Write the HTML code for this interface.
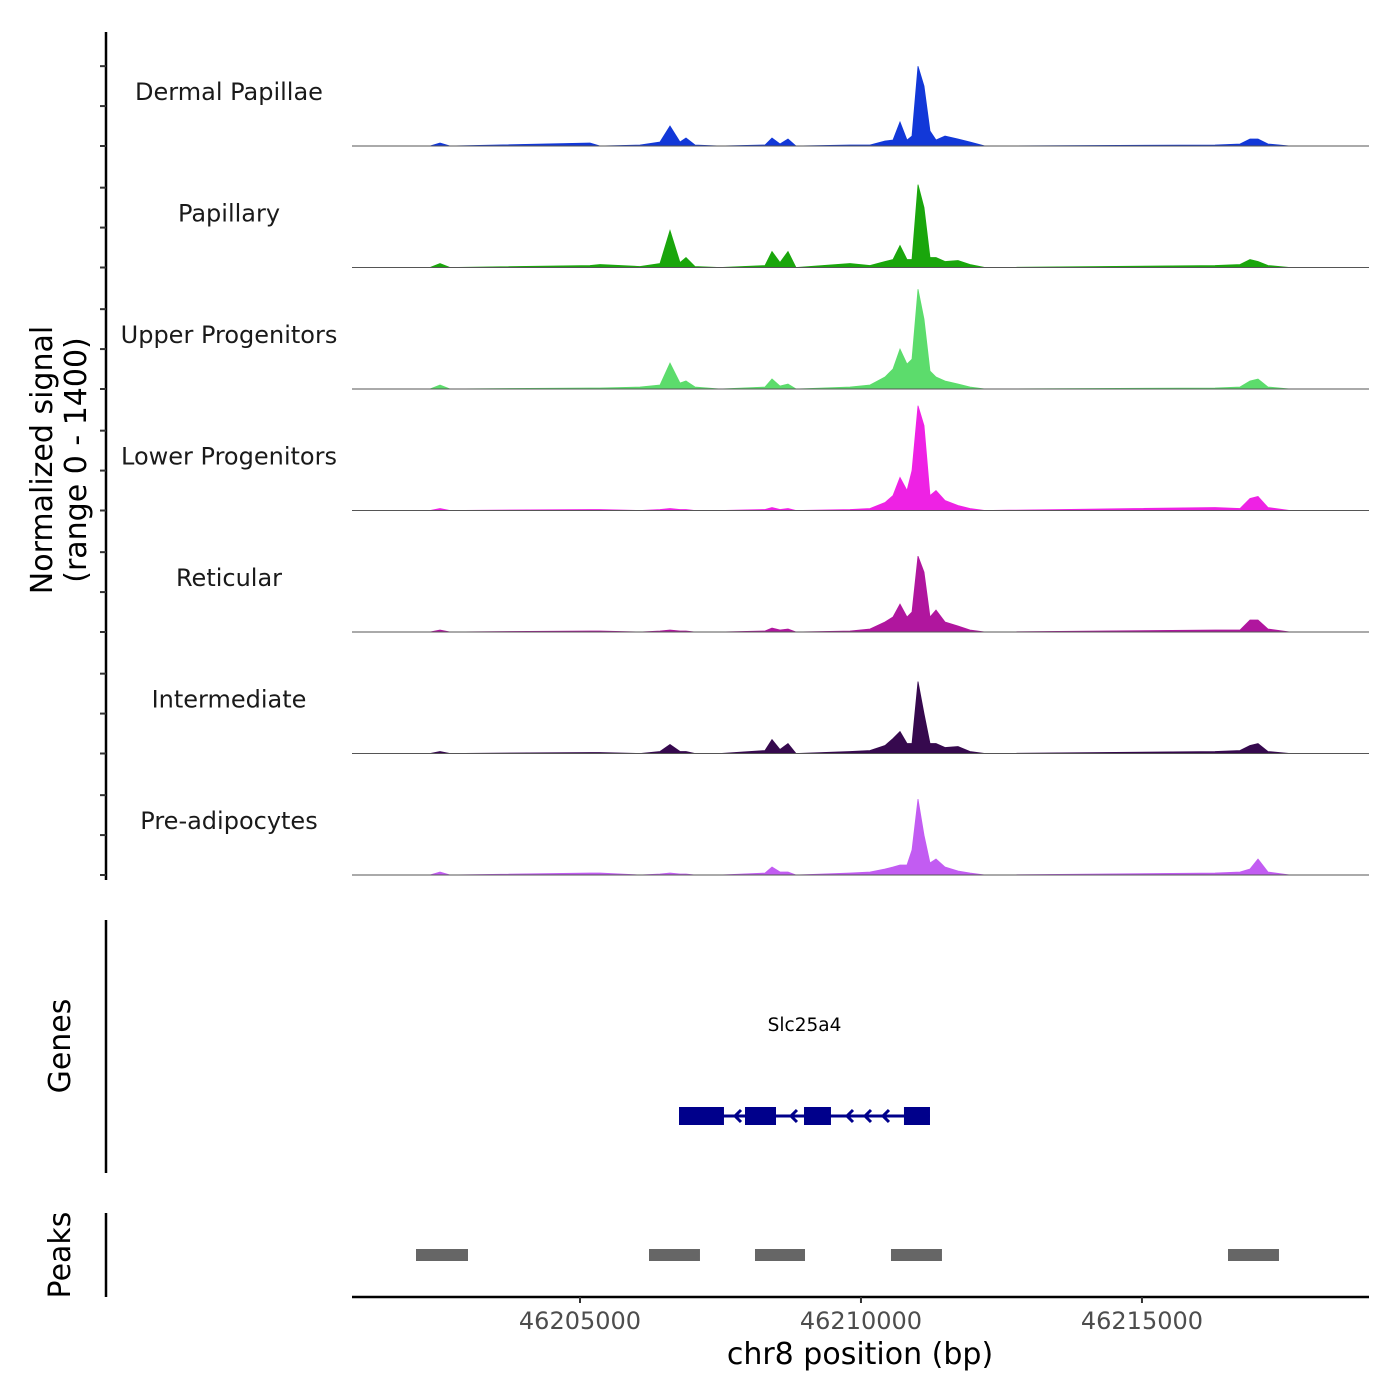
<!DOCTYPE html>
<html><head><meta charset="utf-8"><style>
html,body{margin:0;padding:0;background:#fff;}
svg{display:block;font-family:"DejaVu Sans","Liberation Sans",sans-serif;}
</style></head><body>
<svg id="chart" width="1400" height="1400" viewBox="0 0 1400 1400" xmlns="http://www.w3.org/2000/svg">
<g id="tracks"></g>
<g id="leftaxis"></g>
<text x="52" y="460" font-size="30" text-anchor="middle" transform="rotate(-90 52 460)">Normalized signal</text>
<text x="86" y="460" font-size="30" text-anchor="middle" transform="rotate(-90 86 460)">(range 0 - 1400)</text>
<line x1="106" y1="920" x2="106" y2="1173" stroke="#000" stroke-width="2.5"/>
<text x="70" y="1046" font-size="30" text-anchor="middle" transform="rotate(-90 70 1046)">Genes</text>
<line x1="106" y1="1213" x2="106" y2="1297" stroke="#000" stroke-width="2.5"/>
<text x="70" y="1255" font-size="30" text-anchor="middle" transform="rotate(-90 70 1255)">Peaks</text>
<g id="genes"></g>
<g id="peaks"></g>
<g id="xaxis"></g>
<text x="860" y="1364" font-size="30" text-anchor="middle">chr8 position (bp)</text>
</svg>
<script>
const positions = [46200943,46202331,46202509,46202687,46205178,46205356,46206068,46206424,46206601,46206779,46206886,46207046,46207491,46208292,46208416,46208559,46208701,46208844,46209804,46210160,46210427,46210570,46210694,46210819,46210908,46211014,46211121,46211228,46211335,46211495,46211726,46211940,46212207,46216299,46216744,46216922,46217064,46217242,46217634,46219040];
const trackNames = ["Dermal Papillae","Papillary","Upper Progenitors","Lower Progenitors","Reticular","Intermediate","Pre-adipocytes"];
const trackColors = ["#1238d8","#1aa60c","#5cdc6c","#ee22e4","#b0169e","#36094e","#c25cf2"];
const dermal = [0,0,35,0,35,0,12,46,230,46,92,12,0,12,92,23,81,0,12,12,58,69,276,69,115,920,690,173,69,115,81,46,0,12,23,81,81,23,0,0];
const papillary = [0,0,46,0,23,35,12,46,426,58,115,12,0,23,184,58,184,0,46,23,69,92,253,92,92,955,690,115,115,69,81,35,0,23,35,92,69,23,0,0];
const upper = [0,0,46,0,12,12,23,46,299,69,92,23,0,23,115,35,58,0,23,46,138,230,460,288,345,1150,805,207,138,92,58,23,0,12,23,92,115,23,0,0];
const lower = [0,0,23,0,12,12,0,12,23,12,12,0,0,12,35,12,23,0,12,23,92,173,380,230,460,1208,978,173,230,115,58,23,0,35,23,138,161,35,0,0];
const reticular = [0,0,23,0,12,12,0,12,23,12,12,0,0,12,46,23,35,0,12,35,115,173,322,173,230,874,690,173,253,115,69,23,0,23,23,138,138,35,0,0];
const intermediate = [0,0,23,0,12,12,0,23,104,23,23,0,0,35,161,46,115,0,23,35,92,173,253,115,115,828,460,115,115,69,81,23,0,23,35,92,115,23,0,0];
const preadipo = [0,0,35,0,23,23,0,12,23,12,12,0,0,23,92,35,35,0,23,35,69,92,115,115,288,874,460,138,184,92,46,23,0,23,35,69,184,35,0,0];
const seriesList = [dermal,papillary,upper,lower,reticular,intermediate,preadipo];
const xTicks = [46205000,46210000,46215000];
const xTickLabels = ["46205000","46210000","46215000"];
const geneName = "Slc25a4";
const geneSpan = [46206762,46211228];
const exons = [[46206762,46207562],[46207936,46208488],[46208986,46209466],[46210765,46211228]];
const strandArrows = [46207776,46208772,46209769,46210089,46210409];
const peakRanges = [[46202082,46203007],[46206228,46207135],[46208114,46209004],[46210534,46211441],[46216531,46217438]];
const signalMax = 1400;

const NS="http://www.w3.org/2000/svg";
const X0=352,X1=1369,D0=46200943,D1=46219040;
function xs(bp){return X0+(bp-D0)/(D1-D0)*(X1-X0);}
const trackH=121.5, firstBase=146;
function ys(v,i){return firstBase+i*trackH - v/signalMax*trackH;}
function mk(tag,attrs,parent){const e=document.createElementNS(NS,tag);for(const k in attrs)e.setAttribute(k,attrs[k]);parent.appendChild(e);return e;}

const tracks=document.getElementById('tracks');
seriesList.forEach((vals,i)=>{
  const base=firstBase+i*trackH;
  let d="M"+xs(positions[0])+","+base;
  vals.forEach((v,j)=>{d+=" L"+xs(positions[j]).toFixed(1)+","+ys(v,i).toFixed(1);});
  d+=" L"+xs(positions[positions.length-1])+","+base+" Z";
  const p=mk('path',{d:d,fill:trackColors[i],stroke:trackColors[i],'stroke-width':0.8},tracks);
  
  
  const bl=mk('line',{x1:X0,x2:X1,y1:base,y2:base,stroke:'#555','stroke-width':1},tracks);
  
  
  const t=mk('text',{x:229,y:base-46,'font-size':24,'text-anchor':'middle',fill:'#1a1a1a'},tracks);
  t.textContent=trackNames[i];
  
  
});
const la=document.getElementById('leftaxis');
const al=mk('line',{x1:106,x2:106,y1:32,y2:880,stroke:'#000','stroke-width':2.5},la);


for(let i=0;i<7;i++){
  const base=firstBase+i*trackH;
  [0,460,920].forEach(v=>{
    const y=base-v/signalMax*trackH;
    const tk=mk('line',{x1:100,x2:106,y1:y,y2:y,stroke:'#333','stroke-width':2},la);
    
    
  });
}
const g=document.getElementById('genes');
const gl=mk('line',{x1:xs(geneSpan[0]),x2:xs(geneSpan[1]),y1:1116,y2:1116,stroke:'#00008b','stroke-width':3},g);


exons.forEach(e=>{
  const r=mk('rect',{x:xs(e[0]),y:1107,width:xs(e[1])-xs(e[0]),height:18,fill:'#00008b'},g);
  
  
});
strandArrows.forEach(a=>{
  const x=xs(a);
  const p=mk('path',{d:`M${x+5},${1110} L${x-1},${1116} L${x+5},${1122}`,stroke:'#00008b','stroke-width':3,fill:'none'},g);
  
  
});
const gt=mk('text',{x:(xs(geneSpan[0])+xs(geneSpan[1]))/2,y:1031,'font-size':18.5,'text-anchor':'middle'},g);
gt.textContent=geneName;


const pk=document.getElementById('peaks');
peakRanges.forEach(r=>{
  const e=mk('rect',{x:xs(r[0]),y:1249,width:xs(r[1])-xs(r[0]),height:12,fill:'#666'},pk);
  
  
});
const xa=document.getElementById('xaxis');
const xl=mk('line',{x1:X0,x2:X1,y1:1297,y2:1297,stroke:'#000','stroke-width':2.5},xa);


xTicks.forEach((t,i)=>{
  const x=xs(t);
  const tk=mk('line',{x1:x,x2:x,y1:1297,y2:1303,stroke:'#333','stroke-width':2},xa);
  
  
  const tl=mk('text',{x:x,y:1329,'font-size':24,'text-anchor':'middle',fill:'#4d4d4d'},xa);
  tl.textContent=xTickLabels[i];
  
  
});
</script>
</body></html>
